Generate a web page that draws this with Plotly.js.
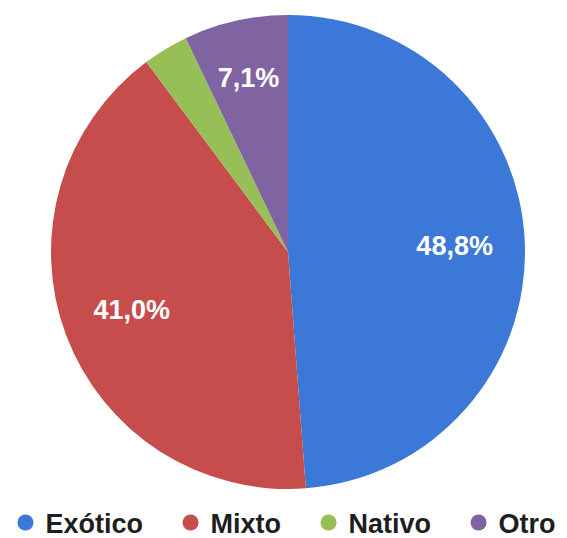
<!DOCTYPE html>
<html><head><meta charset="utf-8">
<script src="https://cdn.plot.ly/plotly-3.0.1.min.js"></script>
<style>html,body{margin:0;padding:0;background:#fff}</style>
</head><body>
<div id="chart" style="width:567px;height:538px"></div>
<script>
const categories = ['Exótico', 'Mixto', 'Nativo', 'Otro'];
const values = [48.8, 41.0, 3.1, 7.1];
const sliceLabels = ['48,8%', '41,0%', '', '7,1%'];
const colors = ['#3c78d8', '#c64d4b', '#96bf57', '#8064a2'];

const common = {
  type: 'pie', labels: categories, values: values,
  sort: false, direction: 'clockwise', rotation: 0,
  showlegend: false, hoverinfo: 'none'
};

const pie = Object.assign({}, common, {
  domain: {x: [9 / 567, 1], y: [0, 1]},
  textinfo: 'none',
  marker: {colors: colors, line: {width: 0}}
});

const labelRing = Object.assign({}, common, {
  domain: {x: [0.1235, 0.8924], y: [0.04, 0.96]},
  hole: 0.53,
  text: sliceLabels,
  textinfo: 'text',
  textposition: 'inside',
  insidetextorientation: 'horizontal',
  textfont: {family: 'Liberation Sans', size: 27, color: '#ffffff', weight: 700},
  marker: {colors: colors.map(() => 'rgba(0,0,0,0)'), line: {width: 0}}
});

const NB = '\u00a0';
const legendTraces = categories.map((c, i) => ({
  type: 'scatter', mode: 'markers', x: [null], y: [null],
  name: i < categories.length - 1 ? c + NB + NB + NB : c,
  marker: {symbol: 'circle', size: 20, color: colors[i]},
  showlegend: true, hoverinfo: 'none'
}));

const layout = {
  width: 567, height: 538,
  margin: {l: 0, r: 0, t: 15, b: 49},
  paper_bgcolor: '#ffffff', plot_bgcolor: '#ffffff',
  xaxis: {visible: false}, yaxis: {visible: false},
  showlegend: true,
  legend: {
    orientation: 'h', x: 0.5, xanchor: 'center',
    yref: 'container', y: 0.028, yanchor: 'middle',
    font: {family: 'Liberation Sans', size: 27, color: '#1e1e1e', weight: 700},
    itemclick: false, itemdoubleclick: false, tracegroupgap: 0
  }
};

Plotly.newPlot('chart', [pie, labelRing].concat(legendTraces), layout, {displayModeBar: false, staticPlot: true});
</script>
</body></html>
